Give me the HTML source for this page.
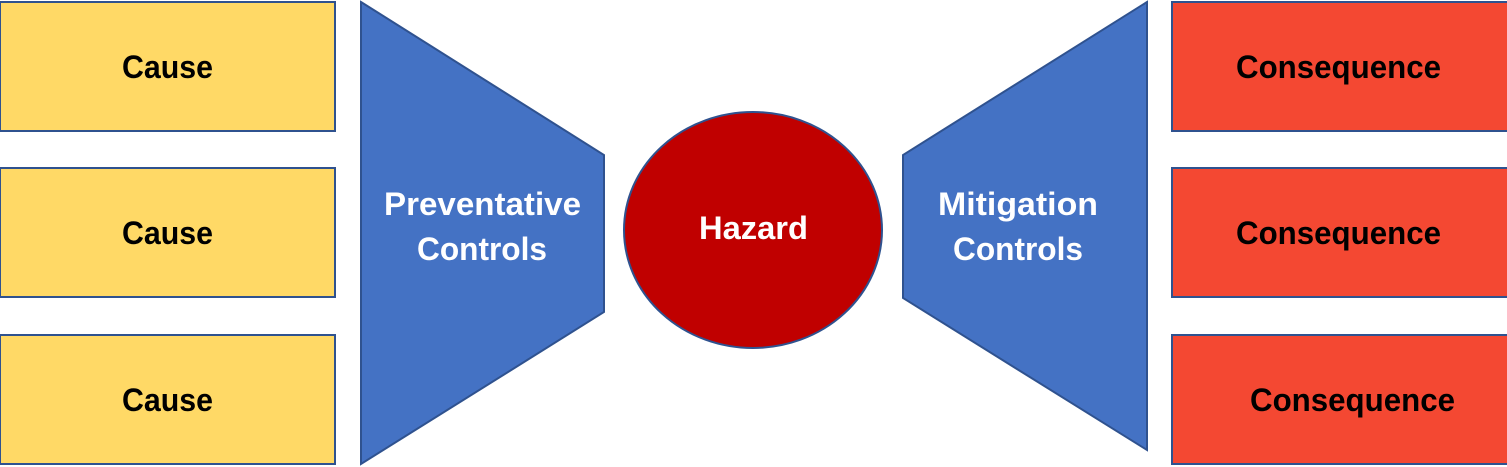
<!DOCTYPE html>
<html><head><style>
html,body{margin:0;padding:0;background:#fff;width:1507px;height:467px;overflow:hidden}
text{font-family:"Liberation Sans",sans-serif;font-weight:bold;font-size:32px}
</style></head><body>
<svg width="1507" height="467" viewBox="0 0 1507 467">
<g stroke="#2F528F" stroke-width="2">
<rect x="0" y="2" width="335" height="129" fill="#FFD966"/>
<rect x="0" y="168" width="335" height="129" fill="#FFD966"/>
<rect x="0" y="335" width="335" height="129" fill="#FFD966"/>
<rect x="1172" y="2" width="336" height="129" fill="#F44832"/>
<rect x="1172" y="168" width="336" height="129" fill="#F44832"/>
<rect x="1172" y="335" width="336" height="129" fill="#F44832"/>
<polygon points="361,2 604,155 604,312 361,464" fill="#4472C4"/>
<polygon points="1147,2 903,155 903,298 1147,450" fill="#4472C4"/>
<ellipse cx="753" cy="230" rx="129" ry="118" fill="#C00000"/>
</g>
<g fill="#000" lengthAdjust="spacingAndGlyphs">
<text x="122" y="78" textLength="91" lengthAdjust="spacingAndGlyphs">Cause</text>
<text x="122" y="244" textLength="91" lengthAdjust="spacingAndGlyphs">Cause</text>
<text x="122" y="411" textLength="91" lengthAdjust="spacingAndGlyphs">Cause</text>
<text x="1236" y="78" textLength="205" lengthAdjust="spacingAndGlyphs">Consequence</text>
<text x="1236" y="244" textLength="205" lengthAdjust="spacingAndGlyphs">Consequence</text>
<text x="1250" y="411" textLength="205" lengthAdjust="spacingAndGlyphs">Consequence</text>
</g>
<g fill="#fff">
<text x="384" y="215" textLength="197" lengthAdjust="spacingAndGlyphs">Preventative</text>
<text x="417" y="260" textLength="130" lengthAdjust="spacingAndGlyphs">Controls</text>
<text x="938" y="215" textLength="160" lengthAdjust="spacingAndGlyphs">Mitigation</text>
<text x="953" y="260" textLength="130" lengthAdjust="spacingAndGlyphs">Controls</text>
<text x="699" y="239" textLength="109" lengthAdjust="spacingAndGlyphs">Hazard</text>
</g>
</svg>
</body></html>
